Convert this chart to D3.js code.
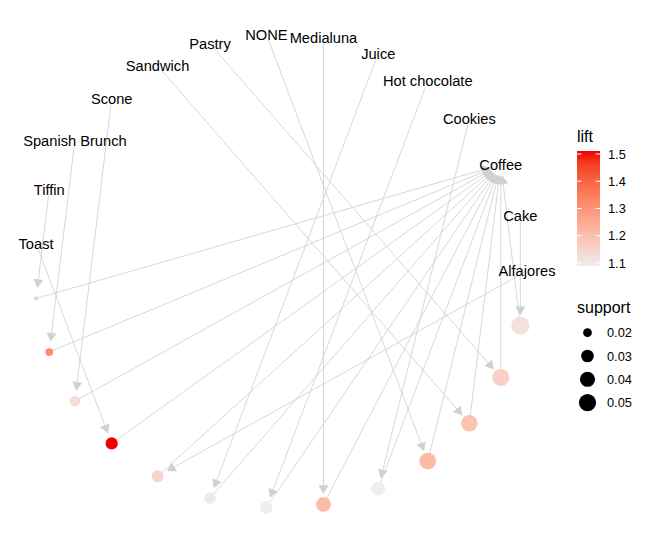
<!DOCTYPE html>
<html>
<head>
<meta charset="utf-8">
<script src="https://cdn.jsdelivr.net/npm/d3@7"></script>
<style>
  body { margin: 0; background: #fff; }
  text { font-family: "Liberation Sans", Arial, sans-serif; }
</style>
</head>
<body>
<div id="chart"></div>
<script>
// items on the circle (alphabetical, like the layout)
const items = ["Alfajores", "Cake", "Coffee", "Cookies", "Hot chocolate", "Juice", "Medialuna",
  "NONE", "Pastry", "Sandwich", "Scone", "Spanish Brunch", "Tiffin", "Toast"];

// rules, in their order around the circle
const ruleLhs = ["Tiffin", "Spanish Brunch", "Scone", "Toast", "Alfajores", "Juice", "Hot chocolate",
  "Medialuna", "Cookies", "NONE", "Sandwich", "Pastry", "Cake"];
const ruleRhs = ["Coffee", "Coffee", "Coffee", "Coffee", "Coffee", "Coffee", "Coffee",
  "Coffee", "Coffee", "Coffee", "Coffee", "Coffee", "Coffee"];
const ruleSupport = [0.0162, 0.0185, 0.0238, 0.0287, 0.0274, 0.0265, 0.0297,
  0.0386, 0.0345, 0.0481, 0.0466, 0.0502, 0.0558];
const ruleLift = [1.16, 1.32, 1.13, 1.511, 1.15, 1.10, 1.09,
  1.21, 1.089, 1.21, 1.19, 1.16, 1.12];

const liftTicks = [1.1, 1.2, 1.3, 1.4, 1.5];
const supportBreaks = [0.02, 0.03, 0.04, 0.05];

const W = 649, H = 544;
const svg = d3.select("#chart").append("svg")
  .attr("width", W).attr("height", H);

// nodes: items first, then rules, equally spaced on a circle
const nodes = items.map(d => ({name: d, type: "item"}))
  .concat(ruleLhs.map((d, i) => ({name: "rule" + (i + 1), type: "rule",
    lhs: d, rhs: ruleRhs[i], support: ruleSupport[i], lift: ruleLift[i]})));
const n = nodes.length;
nodes.forEach((d, i) => {
  const a = 2 * Math.PI * i / n;
  d.lx = Math.cos(a);
  d.ly = Math.sin(a);
});

const x = d3.scaleLinear().domain([-1, 1]).range([34.4, 527]);
const y = d3.scaleLinear().domain([-1, 1]).range([508, 34]);

const liftExt = d3.extent(ruleLift);
const color = d3.scaleLinear().domain(liftExt).range(["#EEEEEE", "#EE0000"])
  .interpolate(d3.interpolateLab);

// size like ggplot area scale: diameter grows with sqrt of rescaled value
const supExt = d3.extent(ruleSupport);
const norm = d3.scaleLinear().domain(supExt).range([0, 1]);
const diam = d3.scaleLinear().domain([0, 1]).range([4.5, 18.2]);
const size = v => diam(Math.sqrt(Math.max(0, norm(v))));

const byName = {};
nodes.forEach(d => { byName[d.name] = d; });

// edges lhs -> rule, rule -> rhs
const edges = [];
nodes.filter(d => d.type === "rule").forEach(r => {
  edges.push({source: byName[r.lhs], target: r, s0: 6, s1: 11});
  edges.push({source: r, target: byName[r.rhs], s0: 0, s1: 11});
});

const edgeG = svg.append("g");
const arrowLen = 8, arrowHalf = 4.6;
edges.forEach(e => {
  const x0 = x(e.source.lx), y0 = y(e.source.ly);
  const x1 = x(e.target.lx), y1 = y(e.target.ly);
  const L = Math.hypot(x1 - x0, y1 - y0);
  const ux = (x1 - x0) / L, uy = (y1 - y0) / L;
  const sx = x0 + ux * e.s0, sy = y0 + uy * e.s0;
  const tx = x1 - ux * e.s1, ty = y1 - uy * e.s1;
  const bx = tx - ux * arrowLen, by = ty - uy * arrowLen;
  edgeG.append("line")
    .attr("x1", sx).attr("y1", sy).attr("x2", bx).attr("y2", by)
    .attr("stroke", "#d3d3d3").attr("stroke-width", 0.9);
  edgeG.append("path")
    .attr("d", "M" + tx + "," + ty +
      "L" + (bx - uy * arrowHalf) + "," + (by + ux * arrowHalf) +
      "L" + (bx + uy * arrowHalf) + "," + (by - ux * arrowHalf) + "Z")
    .attr("fill", "#d0d0d0").attr("stroke", "#d0d0d0").attr("stroke-width", 0.5);
});

// rule points
svg.append("g").selectAll("circle")
  .data(nodes.filter(d => d.type === "rule"))
  .enter().append("circle")
  .attr("cx", d => x(d.lx))
  .attr("cy", d => y(d.ly))
  .attr("r", d => size(d.support) / 2)
  .attr("fill", d => color(d.lift));

// item labels
svg.append("g").selectAll("text")
  .data(nodes.filter(d => d.type === "item"))
  .enter().append("text")
  .attr("x", d => x(d.lx))
  .attr("y", d => y(d.ly))
  .attr("dy", "0.35em")
  .attr("text-anchor", "middle")
  .attr("font-size", "14.67px")
  .attr("fill", "#000")
  .text(d => d.name);

// legend: lift colourbar
const leg = svg.append("g");
const barX = 577, barW = 23, barTop = 151, barBot = 266;
leg.append("text").attr("x", barX).attr("y", 141.5)
  .attr("font-size", "16px").text("lift");
const ly = d3.scaleLinear().domain(liftExt).range([barBot, barTop]);
const defs = svg.append("defs");
const grad = defs.append("linearGradient").attr("id", "liftgrad")
  .attr("x1", 0).attr("y1", 1).attr("x2", 0).attr("y2", 0);
d3.range(0, 1.0001, 0.1).forEach(t => {
  grad.append("stop").attr("offset", t)
    .attr("stop-color", color(liftExt[0] + t * (liftExt[1] - liftExt[0])));
});
leg.append("rect").attr("x", barX).attr("y", barTop)
  .attr("width", barW).attr("height", barBot - barTop)
  .attr("fill", "url(#liftgrad)");
liftTicks.forEach(v => {
  leg.append("line").attr("x1", barX).attr("x2", barX + 4.5)
    .attr("y1", ly(v)).attr("y2", ly(v)).attr("stroke", "#fff").attr("stroke-width", 1);
  leg.append("line").attr("x1", barX + barW - 4.5).attr("x2", barX + barW)
    .attr("y1", ly(v)).attr("y2", ly(v)).attr("stroke", "#fff").attr("stroke-width", 1);
  leg.append("text").attr("x", 608).attr("y", ly(v)).attr("dy", "0.36em")
    .attr("font-size", "12.8px").text(v.toFixed(1));
});

// legend: support sizes
leg.append("text").attr("x", barX).attr("y", 313)
  .attr("font-size", "16px").text("support");
supportBreaks.forEach((v, i) => {
  const cy = 332.7 + i * 23.3;
  leg.append("circle").attr("cx", 587.5).attr("cy", cy)
    .attr("r", size(v) / 2).attr("fill", "#000");
  leg.append("text").attr("x", 607).attr("y", cy).attr("dy", "0.36em")
    .attr("font-size", "12.8px").text(v.toFixed(2));
});
</script>
</body>
</html>
